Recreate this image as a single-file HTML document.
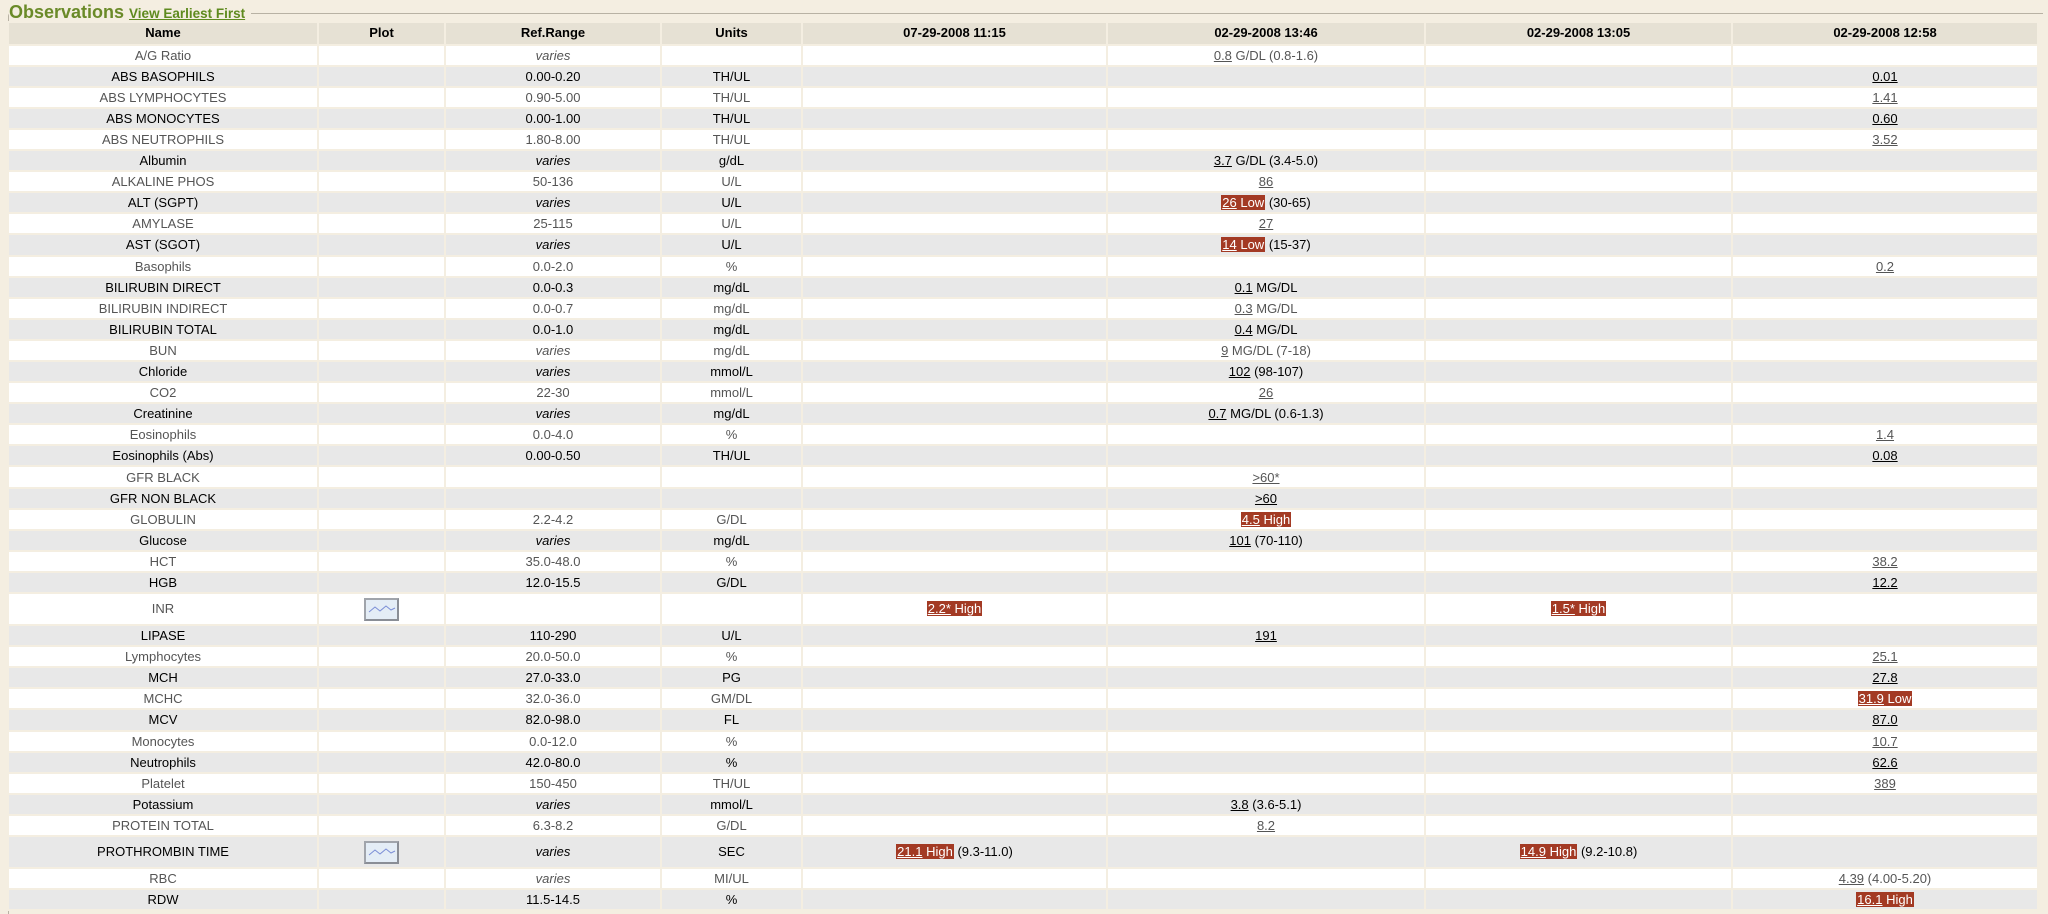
<!DOCTYPE html>
<html><head><meta charset="utf-8"><style>
html,body{margin:0;padding:0;background:#f4eee1;width:2048px;height:909px;overflow:hidden;font-family:"Liberation Sans",Arial,sans-serif}
.fs{position:absolute;left:8px;top:13px;width:2034px;height:900px;border:1px solid #b8b2a4;border-right:none;border-bottom:none;border-radius:3px 0 0 0}
.lg{position:absolute;left:9px;top:2px;background:#f4eee1;padding:0 6px 0 0;color:#6a8a28;font-weight:bold;font-size:18px}
.lg a{font-size:13.5px;color:#5e8a1e;text-decoration:underline}
table{position:absolute;left:7px;top:21px;width:2032px;table-layout:fixed;border-collapse:separate;border-spacing:2px;background:#f4eee1;font-size:13px}
td,th{text-align:center;padding:0;height:19.1px;line-height:19px;white-space:nowrap;overflow:hidden}
th{height:20.6px;line-height:20px;background:#e6e1d4;color:#000;font-weight:bold}
tr.o td{background:#fff;color:#555}
tr.e td{background:#e8e8e8;color:#000}
tr.t td{height:30px;line-height:30px}
i{font-style:italic}
u{text-decoration:underline}
.h{background:#a33a24;color:#fff;padding:0 1px}
.ic{display:inline-block;width:31px;height:19px;border:2px solid #a0a4ab;border-right-color:#8a8e96;border-bottom-color:#8a8e96;background:#e4edf6;vertical-align:middle;position:relative}
</style></head><body>
<div class="fs"></div>
<div class="lg">Observations <a>View Earliest First</a></div>
<table>
<colgroup><col style="width:308px"><col style="width:125px"><col style="width:214px"><col style="width:139px"><col style="width:303px"><col style="width:316px"><col style="width:305px"><col style="width:304px"></colgroup>
<tr><th>Name</th><th>Plot</th><th>Ref.Range</th><th>Units</th><th>07-29-2008 11:15</th><th>02-29-2008 13:46</th><th>02-29-2008 13:05</th><th>02-29-2008 12:58</th></tr>
<tr class="o"><td>A/G Ratio</td><td></td><td><i>varies</i></td><td></td><td></td><td><u>0.8</u> G/DL (0.8-1.6)</td><td></td><td></td></tr>
<tr class="e"><td>ABS BASOPHILS</td><td></td><td>0.00-0.20</td><td>TH/UL</td><td></td><td></td><td></td><td><u>0.01</u></td></tr>
<tr class="o"><td>ABS LYMPHOCYTES</td><td></td><td>0.90-5.00</td><td>TH/UL</td><td></td><td></td><td></td><td><u>1.41</u></td></tr>
<tr class="e"><td>ABS MONOCYTES</td><td></td><td>0.00-1.00</td><td>TH/UL</td><td></td><td></td><td></td><td><u>0.60</u></td></tr>
<tr class="o"><td>ABS NEUTROPHILS</td><td></td><td>1.80-8.00</td><td>TH/UL</td><td></td><td></td><td></td><td><u>3.52</u></td></tr>
<tr class="e"><td>Albumin</td><td></td><td><i>varies</i></td><td>g/dL</td><td></td><td><u>3.7</u> G/DL (3.4-5.0)</td><td></td><td></td></tr>
<tr class="o"><td>ALKALINE PHOS</td><td></td><td>50-136</td><td>U/L</td><td></td><td><u>86</u></td><td></td><td></td></tr>
<tr class="e"><td>ALT (SGPT)</td><td></td><td><i>varies</i></td><td>U/L</td><td></td><td><span class="h"><u>26</u> Low</span> (30-65)</td><td></td><td></td></tr>
<tr class="o"><td>AMYLASE</td><td></td><td>25-115</td><td>U/L</td><td></td><td><u>27</u></td><td></td><td></td></tr>
<tr class="e"><td>AST (SGOT)</td><td></td><td><i>varies</i></td><td>U/L</td><td></td><td><span class="h"><u>14</u> Low</span> (15-37)</td><td></td><td></td></tr>
<tr class="o"><td>Basophils</td><td></td><td>0.0-2.0</td><td>%</td><td></td><td></td><td></td><td><u>0.2</u></td></tr>
<tr class="e"><td>BILIRUBIN DIRECT</td><td></td><td>0.0-0.3</td><td>mg/dL</td><td></td><td><u>0.1</u> MG/DL</td><td></td><td></td></tr>
<tr class="o"><td>BILIRUBIN INDIRECT</td><td></td><td>0.0-0.7</td><td>mg/dL</td><td></td><td><u>0.3</u> MG/DL</td><td></td><td></td></tr>
<tr class="e"><td>BILIRUBIN TOTAL</td><td></td><td>0.0-1.0</td><td>mg/dL</td><td></td><td><u>0.4</u> MG/DL</td><td></td><td></td></tr>
<tr class="o"><td>BUN</td><td></td><td><i>varies</i></td><td>mg/dL</td><td></td><td><u>9</u> MG/DL (7-18)</td><td></td><td></td></tr>
<tr class="e"><td>Chloride</td><td></td><td><i>varies</i></td><td>mmol/L</td><td></td><td><u>102</u> (98-107)</td><td></td><td></td></tr>
<tr class="o"><td>CO2</td><td></td><td>22-30</td><td>mmol/L</td><td></td><td><u>26</u></td><td></td><td></td></tr>
<tr class="e"><td>Creatinine</td><td></td><td><i>varies</i></td><td>mg/dL</td><td></td><td><u>0.7</u> MG/DL (0.6-1.3)</td><td></td><td></td></tr>
<tr class="o"><td>Eosinophils</td><td></td><td>0.0-4.0</td><td>%</td><td></td><td></td><td></td><td><u>1.4</u></td></tr>
<tr class="e"><td>Eosinophils (Abs)</td><td></td><td>0.00-0.50</td><td>TH/UL</td><td></td><td></td><td></td><td><u>0.08</u></td></tr>
<tr class="o"><td>GFR BLACK</td><td></td><td></td><td></td><td></td><td><u>&gt;60*</u></td><td></td><td></td></tr>
<tr class="e"><td>GFR NON BLACK</td><td></td><td></td><td></td><td></td><td><u>&gt;60</u></td><td></td><td></td></tr>
<tr class="o"><td>GLOBULIN</td><td></td><td>2.2-4.2</td><td>G/DL</td><td></td><td><span class="h"><u>4.5</u> High</span></td><td></td><td></td></tr>
<tr class="e"><td>Glucose</td><td></td><td><i>varies</i></td><td>mg/dL</td><td></td><td><u>101</u> (70-110)</td><td></td><td></td></tr>
<tr class="o"><td>HCT</td><td></td><td>35.0-48.0</td><td>%</td><td></td><td></td><td></td><td><u>38.2</u></td></tr>
<tr class="e"><td>HGB</td><td></td><td>12.0-15.5</td><td>G/DL</td><td></td><td></td><td></td><td><u>12.2</u></td></tr>
<tr class="o t"><td>INR</td><td><span class="ic"><svg width="31" height="19"><polyline points="3,12 9,7 14,11 20,6 25,10 29,8" fill="none" stroke="#7c8fd6" stroke-width="1"/></svg></span></td><td></td><td></td><td><span class="h"><u>2.2*</u> High</span></td><td></td><td><span class="h"><u>1.5*</u> High</span></td><td></td></tr>
<tr class="e"><td>LIPASE</td><td></td><td>110-290</td><td>U/L</td><td></td><td><u>191</u></td><td></td><td></td></tr>
<tr class="o"><td>Lymphocytes</td><td></td><td>20.0-50.0</td><td>%</td><td></td><td></td><td></td><td><u>25.1</u></td></tr>
<tr class="e"><td>MCH</td><td></td><td>27.0-33.0</td><td>PG</td><td></td><td></td><td></td><td><u>27.8</u></td></tr>
<tr class="o"><td>MCHC</td><td></td><td>32.0-36.0</td><td>GM/DL</td><td></td><td></td><td></td><td><span class="h"><u>31.9</u> Low</span></td></tr>
<tr class="e"><td>MCV</td><td></td><td>82.0-98.0</td><td>FL</td><td></td><td></td><td></td><td><u>87.0</u></td></tr>
<tr class="o"><td>Monocytes</td><td></td><td>0.0-12.0</td><td>%</td><td></td><td></td><td></td><td><u>10.7</u></td></tr>
<tr class="e"><td>Neutrophils</td><td></td><td>42.0-80.0</td><td>%</td><td></td><td></td><td></td><td><u>62.6</u></td></tr>
<tr class="o"><td>Platelet</td><td></td><td>150-450</td><td>TH/UL</td><td></td><td></td><td></td><td><u>389</u></td></tr>
<tr class="e"><td>Potassium</td><td></td><td><i>varies</i></td><td>mmol/L</td><td></td><td><u>3.8</u> (3.6-5.1)</td><td></td><td></td></tr>
<tr class="o"><td>PROTEIN TOTAL</td><td></td><td>6.3-8.2</td><td>G/DL</td><td></td><td><u>8.2</u></td><td></td><td></td></tr>
<tr class="e t"><td>PROTHROMBIN TIME</td><td><span class="ic"><svg width="31" height="19"><polyline points="3,12 9,7 14,11 20,6 25,10 29,8" fill="none" stroke="#7c8fd6" stroke-width="1"/></svg></span></td><td><i>varies</i></td><td>SEC</td><td><span class="h"><u>21.1</u> High</span> (9.3-11.0)</td><td></td><td><span class="h"><u>14.9</u> High</span> (9.2-10.8)</td><td></td></tr>
<tr class="o"><td>RBC</td><td></td><td><i>varies</i></td><td>MI/UL</td><td></td><td></td><td></td><td><u>4.39</u> (4.00-5.20)</td></tr>
<tr class="e"><td>RDW</td><td></td><td>11.5-14.5</td><td>%</td><td></td><td></td><td></td><td><span class="h"><u>16.1</u> High</span></td></tr>
</table>
</body></html>
